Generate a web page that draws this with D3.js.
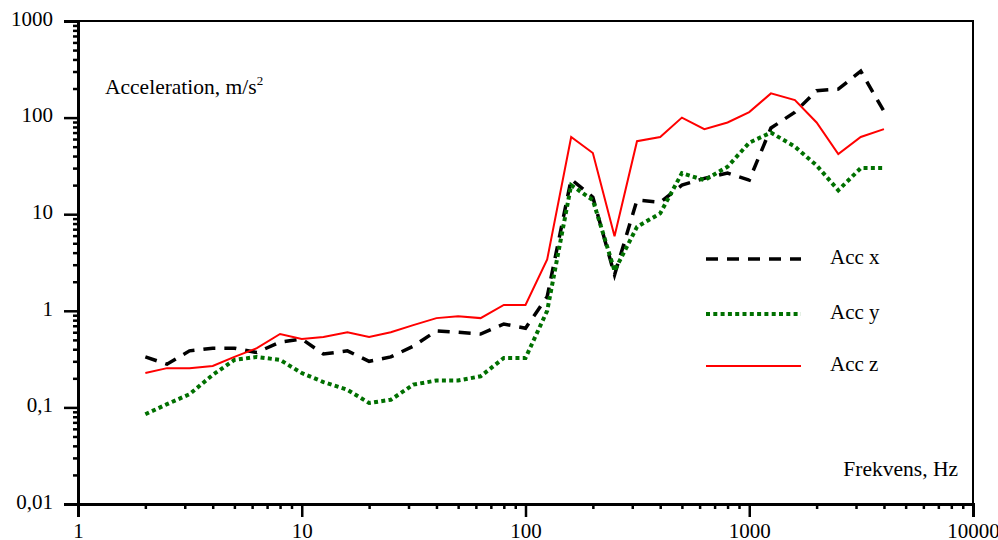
<!DOCTYPE html>
<html>
<head>
<meta charset="utf-8">
<script src="https://cdn.jsdelivr.net/npm/d3@7"></script>
<style>
  body { margin: 0; background: #fff; }
  text { font-family: "Liberation Serif", "Times New Roman", serif; fill: #000; }
</style>
</head>
<body>
<div id="chart"></div>
<script>
// 1/3-octave band centre frequencies, Hz
const freq = [2, 2.5, 3.15, 4, 5, 6.3, 8, 10, 12.5, 16, 20, 25, 31.5, 40, 50, 63, 80, 100,
  125, 160, 200, 250, 315, 400, 500, 630, 800, 1000, 1250, 1600, 2000, 2500, 3150, 4000];

const accX = [0.333, 0.28, 0.385, 0.41, 0.41, 0.37, 0.475, 0.51, 0.357, 0.385, 0.3, 0.333, 0.43, 0.62, 0.6, 0.575, 0.73, 0.66,
  1.4, 23, 15, 2.35, 14, 13.3, 20, 23.5, 26.6, 22.5, 78, 114, 190, 197, 303, 116];
const accY = [0.085, 0.108, 0.137, 0.217, 0.31, 0.333, 0.31, 0.227, 0.183, 0.152, 0.111, 0.12, 0.172, 0.19, 0.19, 0.21, 0.325, 0.325,
  1.0, 20, 14, 2.6, 7.4, 10.2, 26.6, 22.5, 31, 55, 70, 50, 32, 17.7, 30, 30];
const accZ = [0.227, 0.255, 0.255, 0.268, 0.333, 0.41, 0.575, 0.51, 0.535, 0.6, 0.535, 0.6, 0.71, 0.84, 0.88, 0.84, 1.15, 1.15,
  3.4, 63, 43, 5.9, 57, 63, 100, 76, 89, 114, 178, 152, 89, 42, 63, 76];

const xTicks = [1, 10, 100, 1000, 10000];
const yTicks = [0.01, 0.1, 1, 10, 100, 1000];

const series = [
  {name: 'Acc x', values: accX, color: '#000', width: 3.5, dash: '12,9'},
  {name: 'Acc y', values: accY, color: '#007000', width: 4, dash: '4,3.3'},
  {name: 'Acc z', values: accZ, color: '#ff0000', width: 2, dash: null}
];

const width = 998, height = 540;
const margin = {top: 21, right: 25, bottom: 36, left: 78};
const innerW = width - margin.left - margin.right;
const innerH = height - margin.top - margin.bottom;

const svg = d3.select('#chart').append('svg')
  .attr('width', width)
  .attr('height', height);

const g = svg.append('g').attr('transform', `translate(${margin.left},${margin.top})`);

const xScale = d3.scaleLog().domain([1, 10000]).range([0, innerW]);
const yScale = d3.scaleLog().domain([0.01, 1000]).range([innerH, 0]);

// minor ticks 2..9 per decade
const minors = (lo, hi) => {
  const out = [];
  for (let d = lo; d < hi; d *= 10) for (let k = 2; k <= 9; k++) out.push(d * k);
  return out;
};

const fmt = d => String(d).replace('.', ',');

// frame (top and right)
g.append('path')
  .attr('d', `M0,0H${innerW}V${innerH}`)
  .attr('fill', 'none')
  .attr('stroke', '#000')
  .attr('stroke-width', 2);

// x axis
const xMinor = g.append('g').attr('transform', `translate(0,${innerH})`)
  .call(d3.axisBottom(xScale).tickValues(minors(1, 10000)).tickSize(5).tickFormat(''));
const xMajor = g.append('g').attr('transform', `translate(0,${innerH})`)
  .call(d3.axisBottom(xScale).tickValues(xTicks).tickSize(13).tickPadding(5).tickFormat(fmt));

// y axis
const yMinor = g.append('g')
  .call(d3.axisLeft(yScale).tickValues(minors(0.01, 1000)).tickSize(5).tickFormat(''));
const yMajor = g.append('g')
  .call(d3.axisLeft(yScale).tickValues(yTicks).tickSize(14).tickPadding(11).tickFormat(fmt));

[xMinor, xMajor, yMinor, yMajor].forEach(a => {
  a.select('.domain').attr('stroke-width', 3).attr('stroke', '#000');
  a.selectAll('.tick line').attr('stroke-width', 2.5).attr('stroke', '#000');
  a.selectAll('.tick text')
    .style('font-family', '"Liberation Serif", serif')
    .style('font-size', '21px')
    .attr('fill', '#000');
});
xMajor.selectAll('.tick text').attr('dy', '0.78em');
yMajor.selectAll('.tick text').attr('dy', '0.2em');

// series lines
const line = d3.line()
  .x((d, i) => xScale(freq[i]))
  .y(d => yScale(d));

series.forEach(s => {
  g.append('path')
    .datum(s.values)
    .attr('d', line)
    .attr('fill', 'none')
    .attr('stroke', s.color)
    .attr('stroke-width', s.width)
    .attr('stroke-dasharray', s.dash)
    .attr('stroke-linejoin', 'miter');
});

// axis titles
const yTitle = g.append('text')
  .attr('x', 105 - margin.left)
  .attr('y', 94 - margin.top)
  .style('font-size', '21.5px');
yTitle.append('tspan').text('Acceleration, m/s');
yTitle.append('tspan').text('2').style('font-size', '13px').attr('dy', -9);

g.append('text')
  .attr('x', 958 - margin.left)
  .attr('y', 476 - margin.top)
  .attr('text-anchor', 'end')
  .style('font-size', '21.5px')
  .text('Frekvens, Hz');

// legend
const legendY = [259, 314, 366];
const legend = g.selectAll('.legend')
  .data(series)
  .enter().append('g')
  .attr('class', 'legend')
  .attr('transform', (d, i) => `translate(0,${legendY[i] - margin.top})`);

legend.append('line')
  .attr('x1', 706 - margin.left)
  .attr('x2', 801 - margin.left)
  .attr('stroke', d => d.color)
  .attr('stroke-width', d => d.width)
  .attr('stroke-dasharray', d => d.dash);

legend.append('text')
  .attr('x', 830 - margin.left)
  .attr('y', 5)
  .style('font-size', '21px')
  .text(d => d.name);
</script>
</body>
</html>
